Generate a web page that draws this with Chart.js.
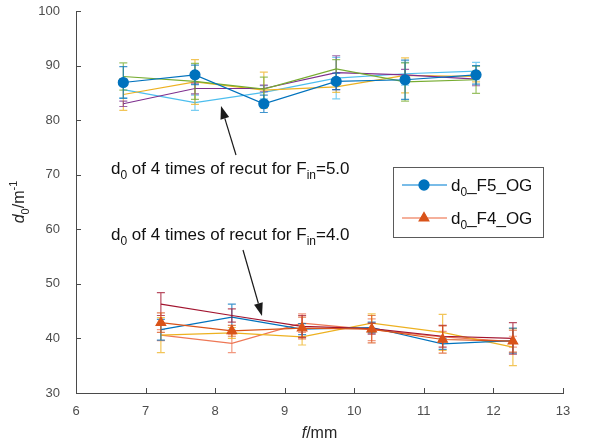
<!DOCTYPE html>
<html>
<head>
<meta charset="utf-8">
<script src="https://cdn.jsdelivr.net/npm/chart.js@4.4.0/dist/chart.umd.min.js"></script>
<style>
  html, body { margin: 0; padding: 0; background: #fff; }
  #wrap { width: 590px; height: 444px; }
</style>
</head>
<body>
<div id="wrap"><canvas id="chart"></canvas></div>
<script>
// focal lengths (mm) of the two measurement groups
const fTop = [6.68, 7.71, 8.70, 9.74, 10.73, 11.75];
const fBottom = [7.22, 8.24, 9.25, 10.25, 11.27, 12.28];

const xTicks = [6, 7, 8, 9, 10, 11, 12, 13];
const yTicks = [30, 40, 50, 60, 70, 80, 90, 100];

// F_in = 5.0 : mean and the four recuts
const f5Mean = [86.9, 88.3, 83.0, 87.1, 87.4, 88.3];
const f5MeanErr = [2.9, 1.8, 1.6, 1.5, 3.6, 1.7];
const f5Cut1 = [88.0, 87.1, 85.7, 89.4, 87.0, 87.4];
const f5Cut1Err = [2.5, 3.3, 2.2, 1.7, 3.5, 2.5];
const f5Cut2 = [83.0, 85.8, 85.8, 88.7, 88.3, 87.5];
const f5Cut2Err = [0.5, 1.0, 0.6, 3.1, 1.0, 1.2];
const f5Cut3 = [84.7, 87.0, 85.5, 86.1, 88.2, 88.0];
const f5Cut3Err = [2.9, 4.1, 3.3, 1.0, 3.2, 1.0];
const f5Cut4 = [85.6, 83.2, 85.1, 87.7, 88.5, 89.0];
const f5Cut4Err = [1.5, 1.4, 1.2, 3.8, 2.1, 1.6];

// F_in = 4.0 : mean and the four recuts
const f4Mean = [42.9, 41.4, 41.9, 41.7, 39.8, 39.5];
const f4MeanErr = [1.8, 1.0, 2.0, 2.5, 2.5, 2.0];
const f4Cut1 = [46.3, 44.2, 42.2, 41.8, 40.4, 40.0];
const f4Cut1Err = [2.1, 1.2, 2.0, 1.0, 2.0, 2.9];
const f4Cut2 = [41.6, 43.9, 41.7, 42.0, 39.0, 39.6];
const f4Cut2Err = [1.9, 2.4, 1.0, 1.0, 1.0, 2.3];
const f4Cut3 = [40.6, 41.0, 40.3, 42.8, 41.1, 38.4];
const f4Cut3Err = [3.2, 1.0, 1.5, 1.7, 3.3, 3.4];
const f4Cut4 = [40.6, 39.1, 42.8, 41.6, 40.3, 39.4];
const f4Cut4Err = [1.0, 1.7, 1.7, 2.0, 1.0, 1.0];

const FONT = '"Liberation Sans", Arial, sans-serif';
const axisColor = '#4a4a4a';
const tickColor = '#4d4d4d';

function series(label, xs, ys, errs, color, opts) {
  return Object.assign({
    label: label,
    data: xs.map((x, i) => ({ x: x, y: ys[i] })),
    err: errs,
    showLine: true,
    borderColor: color,
    backgroundColor: color,
    borderWidth: 1.2,
    pointRadius: 0,
    pointHoverRadius: 0,
    inLegend: false
  }, opts || {});
}

const datasets = [
  series('d0_F5_OG', fTop, f5Mean, f5MeanErr, '#0072BD',
    { pointRadius: 5, pointStyle: 'circle', inLegend: true, legendLine: '#4DA6E0' }),
  series('F5 recut 1', fTop, f5Cut1, f5Cut1Err, '#77AC30'),
  series('F5 recut 2', fTop, f5Cut2, f5Cut2Err, '#7E2F8E'),
  series('F5 recut 3', fTop, f5Cut3, f5Cut3Err, '#EDB120'),
  series('F5 recut 4', fTop, f5Cut4, f5Cut4Err, '#4DBEEE'),
  series('d0_F4_OG', fBottom, f4Mean, f4MeanErr, '#D95319',
    { pointRadius: 5.5, pointStyle: 'triangle', inLegend: true, legendLine: '#F2967A' }),
  series('F4 recut 1', fBottom, f4Cut1, f4Cut1Err, '#A2142F'),
  series('F4 recut 2', fBottom, f4Cut2, f4Cut2Err, '#0072BD'),
  series('F4 recut 3', fBottom, f4Cut3, f4Cut3Err, '#EDB120'),
  series('F4 recut 4', fBottom, f4Cut4, f4Cut4Err, '#EE7755')
];

// text made of runs: [string, 'sub' | 'sup' | '', italic]
function richWidth(ctx, parts, size) {
  let w = 0;
  parts.forEach(p => {
    const s = p[1] ? Math.round(size * 0.7) : size;
    ctx.font = (p[2] ? 'italic ' : '') + s + 'px ' + FONT;
    w += ctx.measureText(p[0]).width;
  });
  return w;
}
function richText(ctx, parts, x, y, size, color) {
  ctx.fillStyle = color;
  ctx.textBaseline = 'alphabetic';
  ctx.textAlign = 'left';
  let cx = x;
  parts.forEach(p => {
    const s = p[1] ? Math.round(size * 0.7) : size;
    ctx.font = (p[2] ? 'italic ' : '') + s + 'px ' + FONT;
    let dy = 0;
    if (p[1] === 'sub') dy = size * 0.3;
    if (p[1] === 'sup') dy = -size * 0.42;
    ctx.fillText(p[0], cx, y + dy);
    cx += ctx.measureText(p[0]).width;
  });
}

function arrow(ctx, x0, y0, x1, y1) {
  const a = Math.atan2(y1 - y0, x1 - x0);
  const len = 13, half = 4.5;
  const bx = x1 - len * Math.cos(a), by = y1 - len * Math.sin(a);
  ctx.strokeStyle = '#1a1a1a';
  ctx.fillStyle = '#1a1a1a';
  ctx.lineWidth = 1.2;
  ctx.beginPath();
  ctx.moveTo(x0, y0);
  ctx.lineTo(bx, by);
  ctx.stroke();
  ctx.beginPath();
  ctx.moveTo(x1, y1);
  ctx.lineTo(bx + half * Math.sin(a), by - half * Math.cos(a));
  ctx.lineTo(bx - half * Math.sin(a), by + half * Math.cos(a));
  ctx.closePath();
  ctx.fill();
}

const overlay = {
  id: 'overlay',
  beforeDatasetDraw(chart, args) {
    const ds = chart.data.datasets[args.index];
    const xs = chart.scales.x, ys = chart.scales.y;
    const ctx = chart.ctx;
    ctx.save();
    ctx.strokeStyle = ds.borderColor;
    ctx.globalAlpha = 0.75;
    ctx.lineWidth = 1.2;
    ds.data.forEach((p, i) => {
      const e = ds.err[i];
      const px = xs.getPixelForValue(p.x);
      const top = ys.getPixelForValue(p.y + e);
      const bot = ys.getPixelForValue(p.y - e);
      ctx.beginPath();
      ctx.moveTo(px, top); ctx.lineTo(px, bot);
      ctx.moveTo(px - 4, top); ctx.lineTo(px + 4, top);
      ctx.moveTo(px - 4, bot); ctx.lineTo(px + 4, bot);
      ctx.stroke();
    });
    ctx.restore();
  },
  afterDraw(chart) {
    const ctx = chart.ctx;
    const area = chart.chartArea;
    const xs = chart.scales.x, ys = chart.scales.y;
    ctx.save();

    // inward tick marks
    ctx.strokeStyle = axisColor;
    ctx.lineWidth = 1;
    ctx.beginPath();
    xTicks.slice(1).forEach(v => {
      const px = Math.round(xs.getPixelForValue(v)) + 0.5;
      ctx.moveTo(px, area.bottom); ctx.lineTo(px, area.bottom - 5);
    });
    yTicks.slice(1).forEach(v => {
      const py = Math.round(ys.getPixelForValue(v)) + 0.5;
      ctx.moveTo(area.left, py); ctx.lineTo(area.left + 5, py);
    });
    ctx.stroke();

    // axis titles
    const xt = [['f', '', true], ['/mm', '', false]];
    const xw = richWidth(ctx, xt, 16);
    richText(ctx, xt, (area.left + area.right) / 2 - xw / 2, 438, 16, '#262626');

    const yt = [['d', '', true], ['0', 'sub', false], ['/m', '', false], ['-1', 'sup', false]];
    const yw = richWidth(ctx, yt, 16);
    ctx.save();
    ctx.translate(24, (area.top + area.bottom) / 2);
    ctx.rotate(-Math.PI / 2);
    richText(ctx, yt, -yw / 2, 0, 16, '#262626');
    ctx.restore();

    // annotations
    richText(ctx, [['d', ''], ['0', 'sub'], [' of 4 times of recut for F', ''], ['in', 'sub'], ['=5.0', '']],
      111, 174, 17, '#111');
    richText(ctx, [['d', ''], ['0', 'sub'], [' of 4 times of recut for F', ''], ['in', 'sub'], ['=4.0', '']],
      111, 240, 17, '#111');
    arrow(ctx, 236, 155, 221, 106);
    arrow(ctx, 243, 250, 262, 316);

    // legend
    const lx = 393, ly = 167, lw = 150, lh = 70;
    ctx.fillStyle = '#fff';
    ctx.fillRect(lx, ly, lw, lh);
    ctx.strokeStyle = '#5a5a5a';
    ctx.lineWidth = 1;
    ctx.strokeRect(lx + 0.5, ly + 0.5, lw, lh);
    chart.data.datasets.filter(d => d.inLegend).forEach((d, i) => {
      const cy = ly + 18 + i * 33;
      ctx.strokeStyle = d.legendLine;
      ctx.lineWidth = 1.3;
      ctx.beginPath();
      ctx.moveTo(lx + 9, cy); ctx.lineTo(lx + 54, cy);
      ctx.stroke();
      ctx.fillStyle = d.backgroundColor;
      ctx.strokeStyle = d.borderColor;
      Chart.helpers.drawPoint(ctx, {
        pointStyle: d.pointStyle, radius: d.pointRadius, borderWidth: 1
      }, lx + 31, cy);
      const parts = [['d', ''], ['0', 'sub'], [d.label.slice(2), '']];
      richText(ctx, parts, lx + 58, cy + 6, 17, '#111');
    });
    ctx.restore();
  }
};

new Chart(document.getElementById('chart'), {
  type: 'scatter',
  data: { datasets: datasets },
  options: {
    responsive: true,
    maintainAspectRatio: false,
    animation: false,
    events: [],
    layout: { padding: { top: 11, right: 27, left: 0, bottom: 0 } },
    plugins: { legend: { display: false }, tooltip: { enabled: false } },
    scales: {
      x: {
        type: 'linear', min: 6, max: 13,
        afterBuildTicks: s => { s.ticks = xTicks.map(v => ({ value: v })); },
        grid: { display: false, drawTicks: false },
        border: { color: axisColor, width: 1 },
        ticks: { color: tickColor, font: { family: FONT, size: 13 }, padding: 11, maxRotation: 0 },
        afterFit: s => { s.height = 51; s.paddingLeft = 0; s.paddingRight = 0; }
      },
      y: {
        min: 30, max: 100,
        afterBuildTicks: s => { s.ticks = yTicks.map(v => ({ value: v })); },
        grid: { display: false, drawTicks: false },
        border: { color: axisColor, width: 1 },
        ticks: { color: tickColor, font: { family: FONT, size: 13 }, padding: 16 },
        afterFit: s => { s.width = 76; s.paddingTop = 0; s.paddingBottom = 0; }
      }
    }
  },
  plugins: [overlay]
});
</script>
</body>
</html>
